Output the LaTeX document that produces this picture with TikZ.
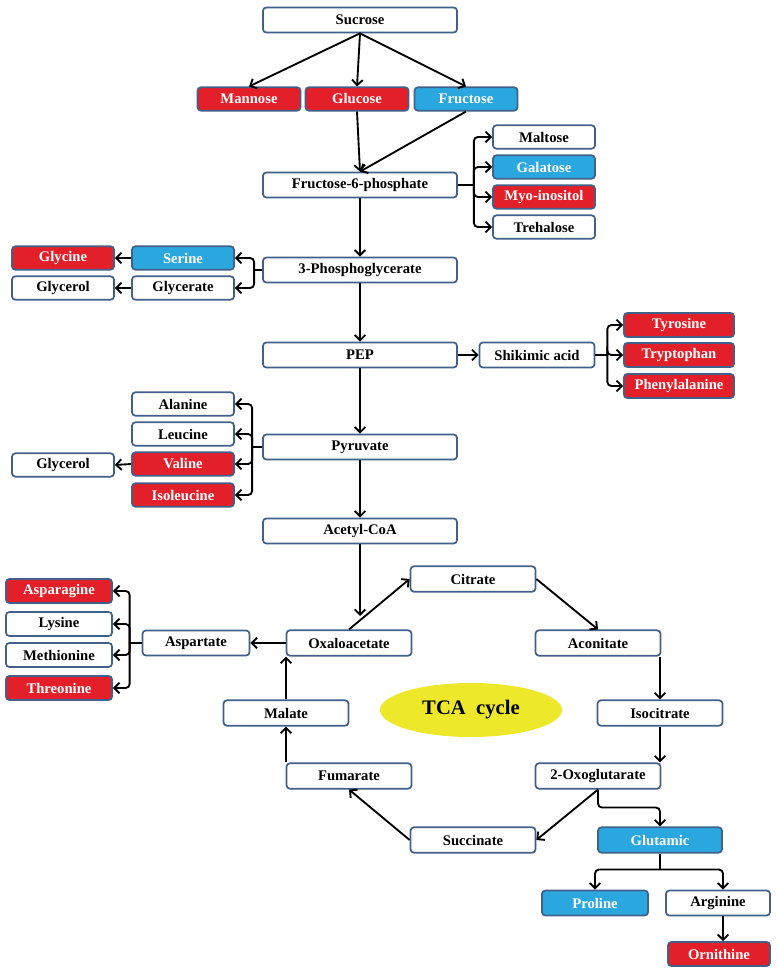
\documentclass[tikz,border=0pt]{standalone}
\usepackage{fontspec}
\setmainfont{Liberation Serif}
\usetikzlibrary{arrows.meta,shapes.geometric}
\definecolor{edge}{HTML}{41608A}
\definecolor{hired}{HTML}{E3202A}
\definecolor{hiblue}{HTML}{2AA7DF}
\definecolor{tcayellow}{HTML}{EEE82A}
\begin{document}
\begin{tikzpicture}[x=0.75pt,y=-0.75pt,
        box/.style={draw=edge,line width=1.3pt,rounded corners=2.5pt,fill=white,inner sep=0pt,
            font=\fontsize{11}{13}\selectfont\bfseries,minimum width=76.5pt,minimum height=17.5pt},
        main/.style={box,minimum width=145.5pt,minimum height=18.75pt},
        wide/.style={box,minimum width=93.75pt,minimum height=19pt},
        redbox/.style={box,fill=hired,text=white},
        bluebox/.style={box,fill=hiblue,text=white},
        flow/.style={line width=1.4pt,-{Straight Barb[length=4pt,width=8pt]}},
        fork/.style={flow,rounded corners=3pt}]
        \useasboundingbox (0,0) rectangle (778,969);
        % main column
        \node[main] (sucrose) at (360,20) {Sucrose};
        \node[main] (f6p) at (360,185) {Fructose-6-phosphate};
        \node[main] (pga) at (360,270) {3-Phosphoglycerate};
        \node[main] (pep) at (360,355) {PEP};
        \node[main] (pyruvate) at (360,447) {Pyruvate};
        \node[main] (acetyl) at (360,531) {Acetyl-CoA};
        % sugars
        \node[redbox,minimum width=77.25pt] (mannose) at (249,99) {Mannose};
        \node[redbox,minimum width=77.25pt] (glucose) at (357,99) {Glucose};
        \node[bluebox,minimum width=77.25pt] (fructose) at (466,99) {Fructose};
        \node[box] (maltose) at (544,137) {Maltose};
        \node[bluebox] (galatose) at (544,167) {Galatose};
        \node[redbox] (myoinositol) at (544,197) {Myo-inositol};
        \node[box] (trehalose) at (544,227) {Trehalose};
        % from 3-phosphoglycerate
        \node[bluebox] (serine) at (183,258) {Serine};
        \node[redbox] (glycine) at (63,258) {Glycine};
        \node[box] (glycerate) at (183,288) {Glycerate};
        \node[box] (glycerol) at (63,288) {Glycerol};
        % shikimate branch
        \node[box,minimum width=86.25pt,minimum height=18.75pt] (shikimic) at (537,355) {Shikimic acid};
        \node[redbox,minimum width=82.5pt,minimum height=18pt] (tyrosine) at (679,325) {Tyrosine};
        \node[redbox,minimum width=82.5pt,minimum height=18pt] (tryptophan) at (679,355) {Tryptophan};
        \node[redbox,minimum width=82.5pt,minimum height=18pt] (phenylalanine) at (679,386) {Phenylalanine};
        % from pyruvate
        \node[box] (alanine) at (183,404) {Alanine};
        \node[box] (leucine) at (183,434) {Leucine};
        \node[redbox] (valine) at (183,464) {Valine};
        \node[redbox] (isoleucine) at (183,495) {Isoleucine};
        \node[box] (glycerolb) at (63,465) {Glycerol};
        % TCA cycle
        \node[wide] (citrate) at (473,579) {Citrate};
        \node[wide] (oxalo) at (349,643) {Oxaloacetate};
        \node[wide] (aconitate) at (598,643) {Aconitate};
        \node[wide] (malate) at (286,713) {Malate};
        \node[wide] (isocitrate) at (660,713) {Isocitrate};
        \node[wide] (fumarate) at (349,776) {Fumarate};
        \node[wide] (oxoglutarate) at (598,776) {2-Oxoglutarate};
        \node[wide] (succinate) at (473,840) {Succinate};
        \node[ellipse,fill=tcayellow,minimum width=136.5pt,minimum height=40.5pt,
            font=\fontsize{15.5}{18}\selectfont\bfseries] (tca) at (471,710) {TCA\ \ cycle};
        % amino acids
        \node[box,minimum width=80.25pt,minimum height=18.75pt] (aspartate) at (196,643) {Aspartate};
        \node[redbox,minimum width=79.5pt,minimum height=18pt] (asparagine) at (59,591) {Asparagine};
        \node[box,minimum width=79.5pt,minimum height=18pt] (lysine) at (59,624) {Lysine};
        \node[box,minimum width=79.5pt,minimum height=18pt] (methionine) at (59,655) {Methionine};
        \node[redbox,minimum width=79.5pt,minimum height=18pt] (threonine) at (59,688) {Threonine};
        \node[bluebox,minimum width=93pt,minimum height=19pt] (glutamic) at (660,840) {Glutamic};
        \node[bluebox,minimum width=79.5pt,minimum height=18.75pt] (proline) at (595,903) {Proline};
        \node[box,minimum width=78pt,minimum height=18.75pt] (arginine) at (718,903) {Arginine};
        \node[redbox,minimum width=76.5pt,minimum height=18pt] (ornithine) at (719,954) {Ornithine};
        \coordinate (acin) at (360,616);
        % arrows
        \foreach \n in {mannose,glucose,fructose}
            \draw[flow] (sucrose.south) -- (\n.north);
        \draw[flow] (glucose.south) -- (f6p.north);
        \draw[flow] (fructose.south) -- (f6p.north);
        \draw[line width=1.4pt] (f6p.east) -- ++(16,0) coordinate (fb);
        \foreach \n in {maltose,galatose,myoinositol,trehalose}
            \draw[fork] (fb) |- (\n.west);
        \draw[flow] (f6p.south) -- (pga.north);
        \draw[line width=1.4pt] (pga.west) -- ++(-8,0) coordinate (gb);
        \foreach \n in {serine,glycerate}
            \draw[fork] (gb) |- (\n.east);
        \draw[flow] (serine.west) -- (glycine.east);
        \draw[flow] (glycerate.west) -- (glycerol.east);
        \draw[flow] (pga.south) -- (pep.north);
        \draw[flow] (pep.east) -- (shikimic.west);
        \draw[line width=1.4pt] (shikimic.east) -- ++(12,0) coordinate (sb);
        \foreach \n in {tyrosine,tryptophan,phenylalanine}
            \draw[fork] (sb) |- (\n.west);
        \draw[flow] (pep.south) -- (pyruvate.north);
        \draw[line width=1.4pt] (pyruvate.west) -- ++(-10,0) coordinate (pb);
        \foreach \n in {alanine,leucine,valine,isoleucine}
            \draw[fork] (pb) |- (\n.east);
        \draw[flow] (valine.west) -- (glycerolb.east);
        \draw[flow] (pyruvate.south) -- (acetyl.north);
        \draw[flow] (acetyl.south) -- (acin);
        % cycle
        \draw[flow] (oxalo.north) -- (citrate.west);
        \draw[flow] (citrate.east) -- (aconitate.north);
        \draw[flow] (isocitrate.north |- aconitate.south) -- (isocitrate.north);
        \draw[flow] (isocitrate.south) -- (isocitrate.south |- oxoglutarate.north);
        \draw[flow] (oxoglutarate.south) -- (succinate.east);
        \draw[flow] (succinate.west) -- (fumarate.south);
        \draw[flow] (malate.south |- fumarate.north) -- (malate.south);
        \draw[flow] (malate.north) -- (malate.north |- oxalo.south);
        \draw[flow] (oxalo.west) -- (aspartate.east);
        \draw[line width=1.4pt] (aspartate.west) -- ++(-12,0) coordinate (ab);
        \foreach \n in {asparagine,lysine,methionine,threonine}
            \draw[fork] (ab) |- (\n.east);
        \draw[fork] (oxoglutarate.south) -- ++(0,18) -| (glutamic.north);
        \draw[line width=1.4pt] (glutamic.south) -- ++(0,16) coordinate (gl);
        \draw[fork] (gl) -| (proline.north);
        \draw[fork] (gl) -| ([xshift=3.75pt]arginine.north);
        \draw[flow] ([xshift=3.75pt]arginine.south) -- ([xshift=3pt]ornithine.north);
\end{tikzpicture}
\end{document}
